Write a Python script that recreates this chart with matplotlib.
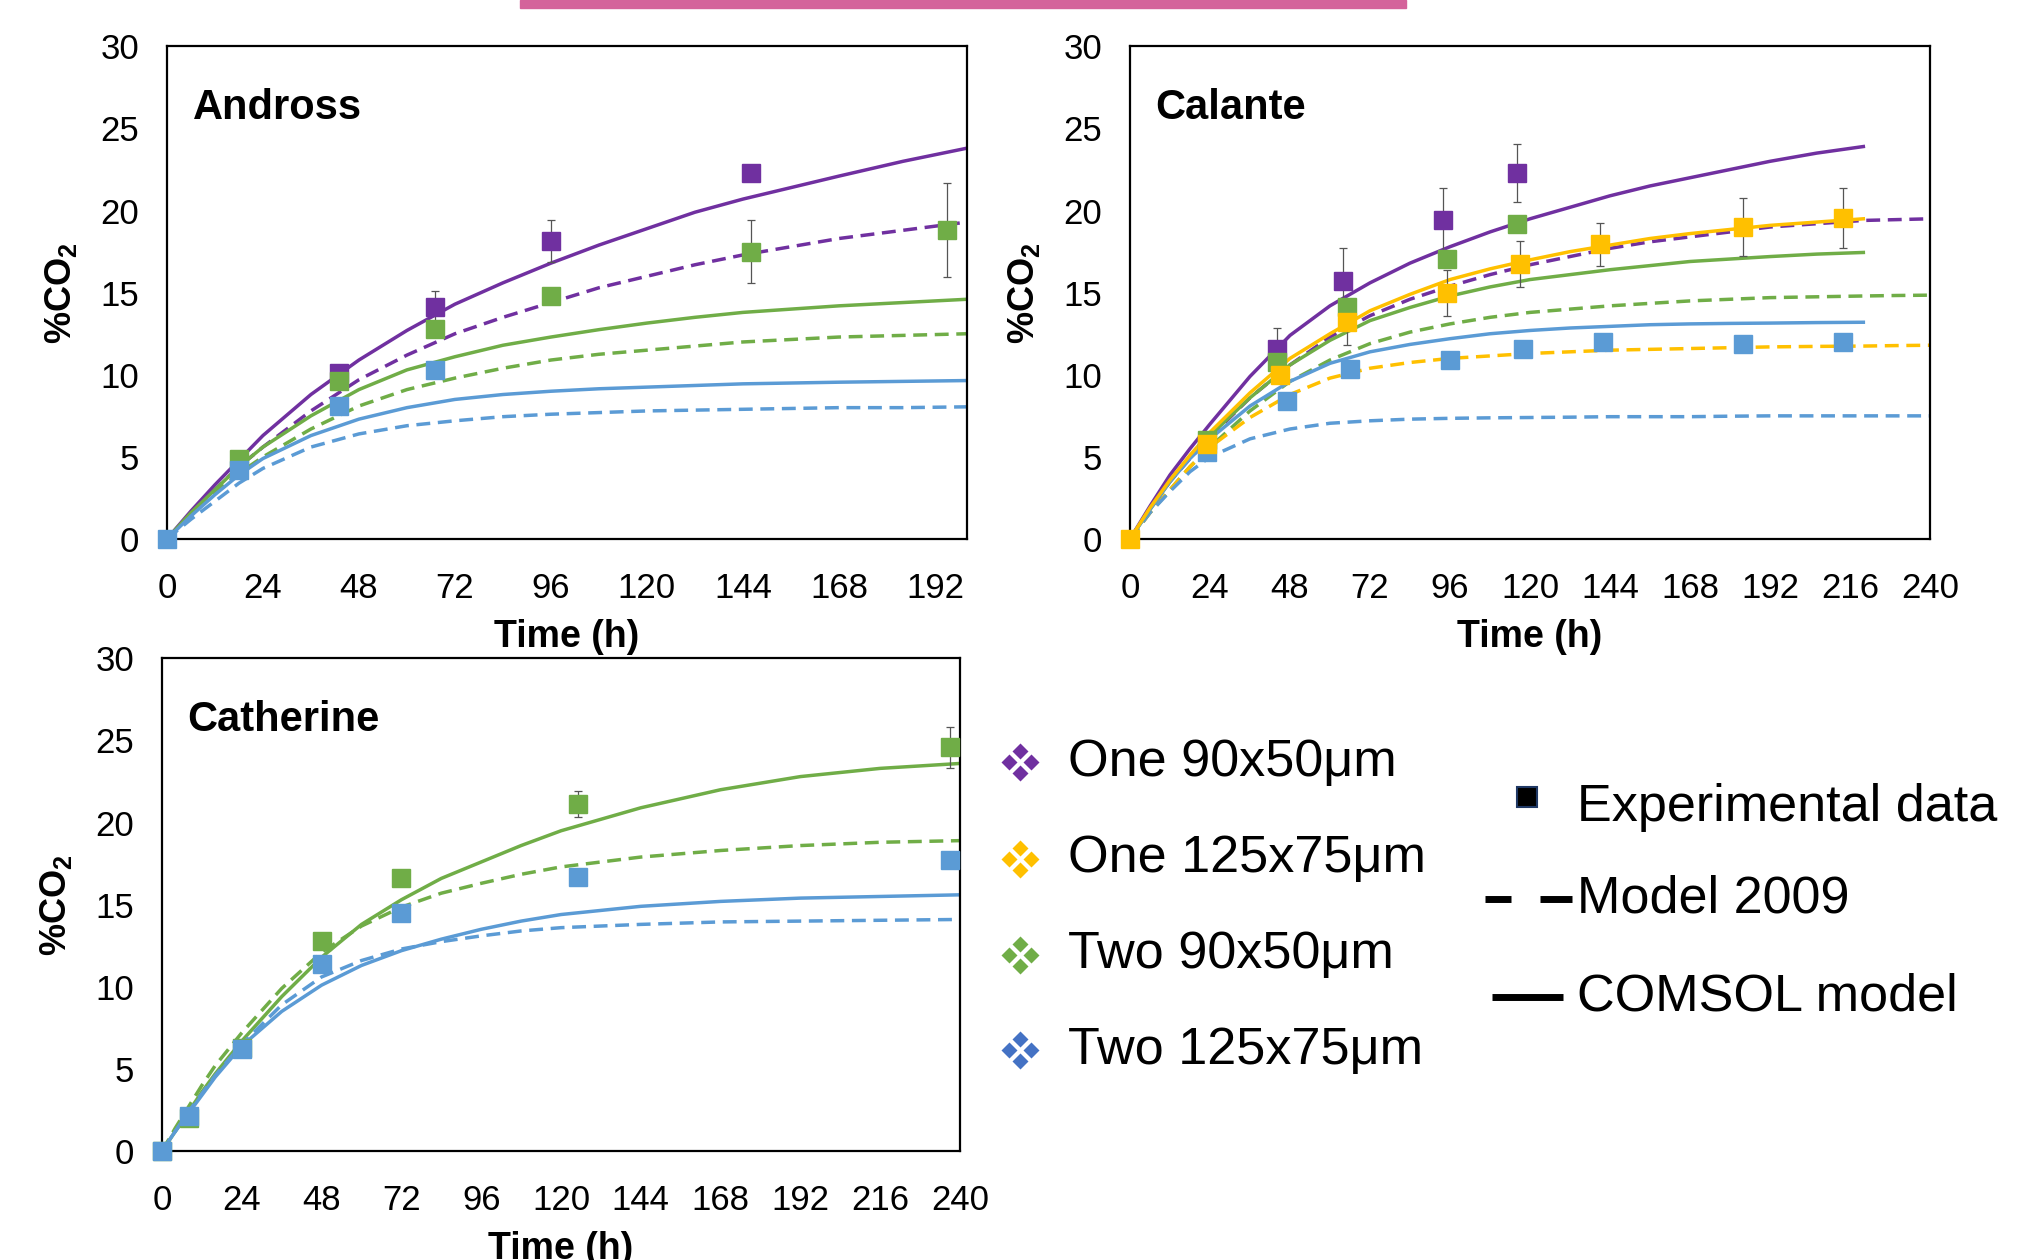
import matplotlib
matplotlib.use('Agg')
import matplotlib.pyplot as plt
from matplotlib.lines import Line2D
from matplotlib.patches import Rectangle

plt.rcParams['font.family'] = ['Liberation Sans', 'DejaVu Sans']
plt.rcParams['mathtext.fontset'] = 'custom'
plt.rcParams['mathtext.rm'] = 'Liberation Sans'
plt.rcParams['mathtext.bf'] = 'Liberation Sans:bold'

purple = '#7030A0'
yellow = '#FFC000'
green = '#70AD47'
blue = '#5B9BD5'
legend_blue = '#4472C4'

# ---------------- Andross ----------------
andross_t_purple = [43, 67, 96, 146]
andross_y_purple = [10.1, 14.1, 18.15, 22.3]
andross_e_purple = [0, 1.0, 1.3, 0]
andross_t_green = [18, 43, 67, 96, 146, 195]
andross_y_green = [4.9, 9.6, 12.8, 14.8, 17.5, 18.8]
andross_e_green = [0, 0, 0, 0, 1.9, 2.85]
andross_t_blue = [0, 18, 43, 67]
andross_y_blue = [0, 4.2, 8.1, 10.3]

andross_tm = [0, 6, 12, 18, 24, 36, 48, 60, 72, 84, 96, 108, 120, 132, 144, 156, 168, 184, 200]
andross_purple_comsol = [0, 1.7, 3.3, 4.8, 6.3, 8.8, 10.9, 12.7, 14.3, 15.6, 16.8, 17.9, 18.9, 19.9, 20.7, 21.4, 22.1, 23.0, 23.8]
andross_purple_2009 = [0, 1.5, 3.0, 4.4, 5.6, 7.8, 9.7, 11.2, 12.5, 13.5, 14.4, 15.3, 16.0, 16.7, 17.3, 17.8, 18.3, 18.8, 19.3]
andross_green_comsol = [0, 1.6, 3.0, 4.4, 5.6, 7.5, 9.1, 10.3, 11.1, 11.8, 12.3, 12.75, 13.15, 13.5, 13.8, 14.0, 14.2, 14.4, 14.6]
andross_green_2009 = [0, 1.5, 2.8, 4.0, 5.0, 6.7, 8.1, 9.1, 9.8, 10.4, 10.9, 11.25, 11.5, 11.75, 12.0, 12.15, 12.3, 12.4, 12.5]
andross_blue_comsol = [0, 1.4, 2.7, 3.9, 4.9, 6.3, 7.3, 8.0, 8.5, 8.8, 9.0, 9.15, 9.25, 9.35, 9.45, 9.5, 9.55, 9.6, 9.65]
andross_blue_2009 = [0, 1.2, 2.3, 3.4, 4.3, 5.6, 6.4, 6.9, 7.2, 7.45, 7.6, 7.7, 7.8, 7.85, 7.9, 7.95, 8.0, 8.0, 8.05]

# ---------------- Calante ----------------
calante_t_purple = [44, 64, 94, 116]
calante_y_purple = [11.6, 15.7, 19.4, 22.3]
calante_e_purple = [1.25, 2.0, 2.0, 1.75]
calante_t_green = [23, 44, 65, 95, 116]
calante_y_green = [6.0, 10.8, 14.1, 17.05, 19.2]
calante_t_yellow = [0, 23, 45, 65, 95, 117, 141, 184, 214]
calante_y_yellow = [0, 5.8, 10.0, 13.2, 15.0, 16.75, 17.95, 19.0, 19.55]
calante_e_yellow = [0, 0, 0, 1.4, 1.4, 1.4, 1.3, 1.75, 1.8]
calante_t_blue = [23, 47, 66, 96, 118, 142, 184, 214]
calante_y_blue = [5.3, 8.4, 10.35, 10.9, 11.55, 12.0, 11.9, 12.0]

calante_tc = [0, 6, 12, 18, 24, 36, 48, 60, 72, 84, 96, 108, 120, 132, 144, 156, 168, 180, 192, 206, 220]
calante_td = calante_tc + [230, 240]
calante_purple_comsol = [0, 2.0, 3.9, 5.5, 7.0, 9.9, 12.4, 14.2, 15.6, 16.8, 17.8, 18.7, 19.5, 20.2, 20.9, 21.5, 22.0, 22.5, 23.0, 23.5, 23.9]
calante_yellow_comsol = [0, 1.9, 3.6, 5.1, 6.5, 8.9, 11.0, 12.5, 13.9, 14.9, 15.8, 16.45, 17.0, 17.5, 17.9, 18.3, 18.6, 18.85, 19.1, 19.3, 19.5]
calante_green_comsol = [0, 1.8, 3.5, 5.0, 6.3, 8.6, 10.6, 12.1, 13.3, 14.1, 14.8, 15.35, 15.8, 16.1, 16.4, 16.65, 16.9, 17.05, 17.2, 17.35, 17.45]
calante_blue_comsol = [0, 1.8, 3.5, 4.9, 6.1, 8.1, 9.6, 10.7, 11.4, 11.85, 12.2, 12.5, 12.7, 12.85, 12.95, 13.05, 13.1, 13.13, 13.15, 13.18, 13.2]
calante_purple_2009 = [0, 1.8, 3.5, 4.9, 6.2, 8.6, 10.6, 12.3, 13.6, 14.6, 15.4, 16.1, 16.7, 17.2, 17.7, 18.1, 18.4, 18.7, 19.0, 19.2, 19.4, 19.45, 19.5]
calante_green_2009 = [0, 1.6, 3.0, 4.4, 5.6, 7.8, 9.6, 10.9, 11.9, 12.6, 13.1, 13.5, 13.8, 14.0, 14.2, 14.35, 14.5, 14.6, 14.7, 14.75, 14.8, 14.83, 14.85]
calante_yellow_2009 = [0, 1.6, 3.0, 4.4, 5.6, 7.4, 8.8, 9.8, 10.4, 10.75, 11.0, 11.15, 11.3, 11.4, 11.5, 11.55, 11.6, 11.65, 11.7, 11.73, 11.75, 11.78, 11.8]
calante_blue_2009 = [0, 1.6, 2.9, 4.1, 5.0, 6.1, 6.7, 7.05, 7.2, 7.3, 7.35, 7.38, 7.4, 7.42, 7.45, 7.45, 7.45, 7.48, 7.5, 7.5, 7.5, 7.5, 7.5]

# ---------------- Catherine ----------------
catherine_t = [0, 8, 24, 48, 72, 125, 237]
catherine_y_green = [0, 2.0, 6.3, 12.8, 16.6, 21.15, 24.6]
catherine_e_green = [0, 0, 0, 0, 0, 0.8, 1.25]
catherine_y_blue = [0, 2.15, 6.2, 11.4, 14.5, 16.7, 17.7]

catherine_tm = [0, 4, 8, 12, 16, 24, 36, 48, 60, 72, 84, 96, 108, 120, 144, 168, 192, 216, 240]
catherine_green_comsol = [0, 1.2, 2.4, 3.6, 4.7, 6.7, 9.4, 11.8, 13.8, 15.3, 16.6, 17.6, 18.6, 19.5, 20.9, 22.0, 22.8, 23.3, 23.6]
catherine_green_2009 = [0, 1.4, 2.7, 4.0, 5.2, 7.2, 9.9, 12.1, 13.7, 14.85, 15.7, 16.3, 16.85, 17.3, 17.9, 18.3, 18.6, 18.8, 18.9]
catherine_blue_comsol = [0, 1.2, 2.3, 3.4, 4.5, 6.4, 8.5, 10.1, 11.3, 12.2, 12.9, 13.5, 14.0, 14.4, 14.9, 15.2, 15.4, 15.5, 15.6]
catherine_blue_2009 = [0, 1.2, 2.4, 3.5, 4.6, 6.5, 8.9, 10.6, 11.6, 12.3, 12.75, 13.1, 13.4, 13.6, 13.8, 13.95, 14.0, 14.05, 14.1]

legend_labels = ['One 90x50\u03bcm', 'One 125x75\u03bcm', 'Two 90x50\u03bcm', 'Two 125x75\u03bcm']
legend_colors = [purple, yellow, green, legend_blue]

LW = 2.5
DASH = (4, 2.2)
MS = 12.5


def model(ax, t, y, color, dashed=False):
    if dashed:
        ax.plot(t, y, color=color, lw=LW, dashes=DASH, zorder=2)
    else:
        ax.plot(t, y, color=color, lw=LW, zorder=2)


def points(ax, t, y, color, err=None):
    if err is not None:
        ax.errorbar(t, y, yerr=err, fmt='none', ecolor='#555555', elinewidth=0.9,
                    capsize=3, capthick=0.9, zorder=3)
    ax.plot(t, y, 's', color=color, ms=MS, zorder=4, clip_on=False)


def style(ax, title, xmax, ticks):
    ax.set_xlim(0, xmax)
    ax.set_ylim(0, 30)
    ax.set_xticks(ticks)
    ax.set_yticks(range(0, 31, 5))
    ax.tick_params(axis='x', length=0, labelsize=25, pad=24)
    ax.tick_params(axis='y', length=0, labelsize=25, pad=20)
    for s in ax.spines.values():
        s.set_linewidth(1.6)
        s.set_color('black')
    ax.set_xlabel('Time (h)', fontsize=27, fontweight='bold')
    ax.set_ylabel(r'%CO$_\mathbf{2}$', fontsize=26, fontweight='bold')
    ax.yaxis.set_label_coords(-0.11, 0.5)
    ax.xaxis.set_label_coords(0.5, -0.163)
    ax.text(0.032, 0.875, title, transform=ax.transAxes, fontsize=30,
            fontweight='bold', ha='left', va='center')


fig = plt.figure(figsize=(20.43, 12.6), dpi=100)

# pink banner remnant at the top
fig.patches.append(Rectangle((520 / 2043, 1 - 8 / 1260), 886 / 2043, 8 / 1260,
                             transform=fig.transFigure, color='#D4639B', zorder=0))

ax1 = fig.add_axes([0.0817, 0.5722, 0.3916, 0.391])
ax2 = fig.add_axes([0.5531, 0.5722, 0.3916, 0.391])
ax3 = fig.add_axes([0.0793, 0.0865, 0.3906, 0.391])

# Andross
model(ax1, andross_tm, andross_purple_comsol, purple)
model(ax1, andross_tm, andross_purple_2009, purple, True)
model(ax1, andross_tm, andross_green_comsol, green)
model(ax1, andross_tm, andross_green_2009, green, True)
model(ax1, andross_tm, andross_blue_comsol, blue)
model(ax1, andross_tm, andross_blue_2009, blue, True)
points(ax1, andross_t_purple, andross_y_purple, purple, andross_e_purple)
points(ax1, andross_t_green, andross_y_green, green, andross_e_green)
points(ax1, andross_t_blue, andross_y_blue, blue)
style(ax1, 'Andross', 200, range(0, 193, 24))

# Calante
model(ax2, calante_td, calante_purple_2009, purple, True)
model(ax2, calante_td, calante_green_2009, green, True)
model(ax2, calante_td, calante_yellow_2009, yellow, True)
model(ax2, calante_td, calante_blue_2009, blue, True)
model(ax2, calante_tc, calante_purple_comsol, purple)
model(ax2, calante_tc, calante_green_comsol, green)
model(ax2, calante_tc, calante_blue_comsol, blue)
model(ax2, calante_tc, calante_yellow_comsol, yellow)
points(ax2, calante_t_purple, calante_y_purple, purple, calante_e_purple)
points(ax2, calante_t_green, calante_y_green, green)
points(ax2, calante_t_blue, calante_y_blue, blue)
points(ax2, calante_t_yellow, calante_y_yellow, yellow, calante_e_yellow)
style(ax2, 'Calante', 240, range(0, 241, 24))

# Catherine
model(ax3, catherine_tm, catherine_green_comsol, green)
model(ax3, catherine_tm, catherine_green_2009, green, True)
model(ax3, catherine_tm, catherine_blue_comsol, blue)
model(ax3, catherine_tm, catherine_blue_2009, blue, True)
points(ax3, catherine_t, catherine_y_green, green, catherine_e_green)
points(ax3, catherine_t, catherine_y_blue, blue)
style(ax3, 'Catherine', 240, range(0, 241, 24))

# legend drawn in pixel coordinates on an overlay axes
lg = fig.add_axes([0, 0, 1, 1], facecolor='none')
lg.set_xlim(0, 2043)
lg.set_ylim(1260, 0)
lg.axis('off')

rows_y = [762, 859, 955, 1050]
for label, color, yy in zip(legend_labels, legend_colors, rows_y):
    for dx, dy in [(0, -11), (-11, 0), (11, 0), (0, 11)]:
        lg.plot(1020 + dx, yy + dy, 'D', color=color, ms=8, mec='none')
    lg.text(1068, yy, label, fontsize=37.5, ha='left', va='center')

lg.plot(1527, 797, 's', color='black', mec='#1F3864', mew=1.5, ms=15)
lg.text(1577, 808, 'Experimental data', fontsize=37.5, ha='left', va='center')
lg.add_line(Line2D([1485, 1511], [899, 899], color='black', lw=5, solid_capstyle='butt'))
lg.add_line(Line2D([1540, 1572], [899, 899], color='black', lw=5, solid_capstyle='butt'))
lg.text(1577, 899, 'Model 2009', fontsize=37.5, ha='left', va='center')
lg.add_line(Line2D([1492, 1563], [997, 997], color='black', lw=5, solid_capstyle='butt'))
lg.text(1577, 997, 'COMSOL model', fontsize=37.5, ha='left', va='center')

fig.savefig('out.png', dpi=100)
